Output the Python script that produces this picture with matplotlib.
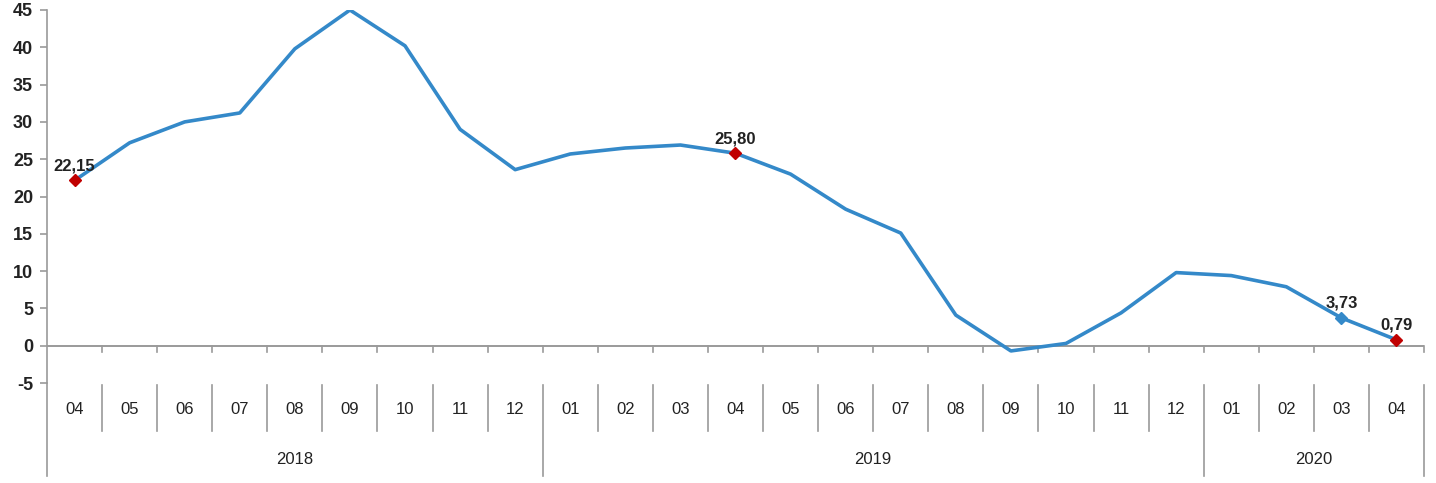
import numpy as np
import matplotlib.pyplot as plt
from matplotlib.transforms import blended_transform_factory

plt.rcParams["font.family"] = ["Liberation Sans", "DejaVu Sans"]
plt.rcParams["axes.unicode_minus"] = False

months = ["04", "05", "06", "07", "08", "09", "10", "11", "12",
          "01", "02", "03", "04", "05", "06", "07", "08", "09", "10", "11", "12",
          "01", "02", "03", "04"]
years = ["2018", "2019", "2020"]
year_counts = [9, 12, 4]
values = [22.15, 27.2, 30.0, 31.2, 39.8, 45.0, 40.2, 29.0, 23.6,
          25.7, 26.5, 26.9, 25.80, 23.0, 18.3, 15.1, 4.1, -0.7, 0.3, 4.4, 9.8,
          9.4, 7.9, 3.73, 0.79]
red_points = [0, 12, 24]
blue_points = [23]

line_color = "#3489C9"
red_color = "#C00000"
axis_color = "#9A9A9A"
text_color = "#222222"

W, H = 1436, 483
fig = plt.figure(figsize=(W / 100, H / 100), dpi=100)
ax = fig.add_axes([47 / W, 1 - 383 / H, (1424 - 47) / W, (383 - 10) / H])

x = np.arange(len(values))
ax.plot(x, values, color=line_color, linewidth=2.6, zorder=3)
ax.plot(x[red_points], np.array(values)[red_points], "D", color=red_color,
        markersize=6.5, zorder=4)
ax.plot(x[blue_points], np.array(values)[blue_points], "D", color=line_color,
        markersize=6.5, zorder=4)

def fmt(v):
    return f"{v:.2f}".replace(".", ",")

for i in red_points + blue_points:
    ax.annotate(fmt(values[i]), (x[i], values[i]), xytext=(0, 5),
                textcoords="offset points", ha="center", va="bottom",
                fontsize=12, fontweight="bold", color=text_color, zorder=5)

ax.set_xlim(-0.5, len(values) - 0.5)
ax.set_ylim(-5, 45)
ax.set_yticks(np.arange(-5, 46, 5))
ax.tick_params(axis="y", colors=axis_color, labelcolor=text_color,
               labelsize=13, length=5, width=1.2, pad=5)
for lab in ax.get_yticklabels():
    lab.set_fontweight("bold")
ax.set_xticks([])
for s in ["top", "right", "bottom"]:
    ax.spines[s].set_visible(False)
ax.spines["left"].set_color(axis_color)
ax.spines["left"].set_linewidth(1.2)

# zero line with small ticks at category boundaries
ax.axhline(0, color=axis_color, linewidth=1.4, zorder=2)
tr = blended_transform_factory(ax.transData, fig.transFigure)
def fy(p):
    return 1 - p / H

for b in np.arange(0.5, len(values), 1.0):
    ax.plot([b, b], [fy(346), fy(352)], color=axis_color, linewidth=1.2,
            transform=tr, clip_on=False)

# multi-level category axis
ax.plot([-0.5, -0.5], [fy(383), fy(476)], color=axis_color, linewidth=1.2,
        transform=tr, clip_on=False)
year_bounds = np.cumsum(year_counts) - 0.5
for b in np.arange(0.5, len(values), 1.0):
    bottom = 476 if b in year_bounds else 431
    ax.plot([b, b], [fy(385), fy(bottom)], color=axis_color, linewidth=1.2,
            transform=tr, clip_on=False)

for i, m in enumerate(months):
    ax.text(i, fy(410), m, transform=tr, ha="center", va="center",
            fontsize=12, color=text_color)

start = -0.5
for yname, cnt in zip(years, year_counts):
    ax.text(start + cnt / 2, fy(460), yname, transform=tr, ha="center",
            va="center", fontsize=12, color=text_color)
    start += cnt

fig.savefig("out.png", dpi=100)
